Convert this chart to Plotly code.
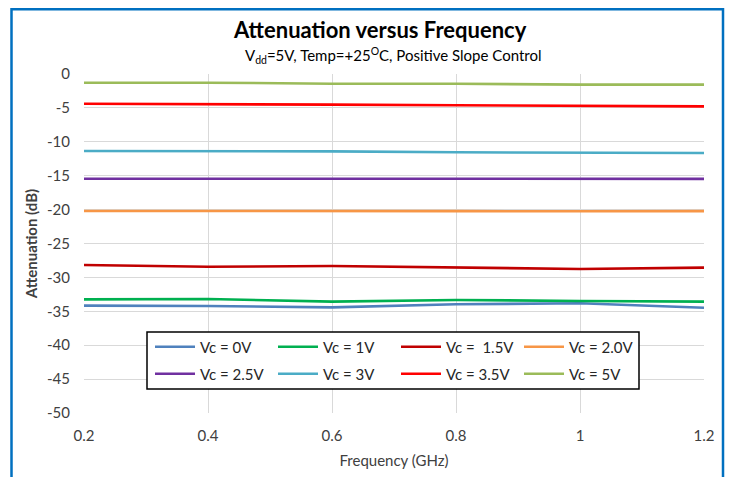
import plotly.graph_objects as go

freq = [0.2, 0.4, 0.6, 0.8, 1.0, 1.2]

vc_0v = [-34.17, -34.22, -34.42, -33.97, -33.82, -34.47]
vc_1v = [-33.24, -33.19, -33.58, -33.33, -33.48, -33.58]
vc_1p5v = [-28.17, -28.42, -28.32, -28.50, -28.76, -28.56]
vc_2p0v = [-20.20, -20.18, -20.15, -20.22, -20.25, -20.22]
vc_2p5v = [-15.44, -15.45, -15.47, -15.47, -15.47, -15.47]
vc_3v = [-11.36, -11.36, -11.41, -11.55, -11.65, -11.65]
vc_3p5v = [-4.38, -4.42, -4.52, -4.62, -4.72, -4.77]
vc_5v = [-1.28, -1.28, -1.43, -1.43, -1.57, -1.57]

names = ["Vc = 0V", "Vc = 1V", "Vc =  1.5V", "Vc = 2.0V",
         "Vc = 2.5V", "Vc = 3V", "Vc = 3.5V", "Vc = 5V"]
series = [vc_0v, vc_1v, vc_1p5v, vc_2p0v, vc_2p5v, vc_3v, vc_3p5v, vc_5v]
colors = ["#4F81BD", "#00B050", "#C00000", "#F79646",
          "#7030A0", "#4BACC6", "#FF0000", "#9BBB59"]

y_ticks = list(range(0, -51, -5))
y_tick_labels = [str(v) for v in y_ticks]
x_ticks = [0.2, 0.4, 0.6, 0.8, 1.0, 1.2]
x_tick_labels = ["0.2", "0.4", "0.6", "0.8", "1", "1.2"]

FONT = "Lato, 'Open Sans', sans-serif"

# page body has an 8px default margin; plot area in figure coords: x 76..696, y 66..405
L, T, W, H = 76, 66, 620, 339

fig = go.Figure()
for i, (n, s, c) in enumerate(zip(names, series, colors)):
    fig.add_trace(go.Scatter(x=freq, y=s, name=n, mode="lines",
                             legend="legend" if i < 4 else "legend2",
                             line=dict(color=c, width=2.6)))

leg_common = dict(
    orientation="h", xanchor="left", yanchor="middle",
    bgcolor="rgba(0,0,0,0)", borderwidth=0,
    font=dict(family=FONT, size=15, color="#262626"),
    entrywidth=68, entrywidthmode="pixels",
    itemwidth=40, tracegroupgap=0,
)

fig.update_layout(
    width=726, height=469,
    margin=dict(l=L, r=726 - L - W, t=T, b=469 - T - H, autoexpand=False),
    paper_bgcolor="white", plot_bgcolor="white",
    font=dict(family=FONT, size=15, color="#404040"),
    showlegend=True,
    legend=dict(x=(150 - 84) / W, y=(413 - 347) / H, **leg_common),
    legend2=dict(x=(150 - 84) / W, y=(413 - 374) / H, **leg_common),
    annotations=[
        dict(text="<b>Attenuation versus Frequency</b>", x=(380 - 84) / W, xref="paper",
             y=(413 - 29) / H, yref="paper", showarrow=False,
             xanchor="center", yanchor="middle",
             font=dict(family=FONT, size=22, color="#000000")),
        dict(text="V<sub>dd</sub>=5V, Temp=+25<sup>O</sup>C, Positive Slope Control",
             x=(393 - 84) / W, xref="paper",
             y=(413 - 56) / H, yref="paper", showarrow=False,
             xanchor="center", yanchor="middle",
             font=dict(family=FONT, size=15, color="#000000")),
    ],
    shapes=[
        dict(type="rect", xref="paper", yref="paper",
             x0=(147 - 84) / W, x1=(639 - 84) / W,
             y0=(413 - 389) / H, y1=(413 - 332) / H,
             line=dict(color="black", width=1.5), fillcolor="white",
             layer="above"),
        dict(type="rect", xref="paper", yref="paper",
             x0=(11.5 - 84) / W, x1=(723 - 84) / W,
             y0=-0.3, y1=(T + H - 1.2) / H,
             line=dict(color="#0070C0", width=2.5), fillcolor="rgba(0,0,0,0)",
             layer="above"),
    ],
)

fig.update_xaxes(
    range=[0.2, 1.2], tickvals=x_ticks, ticktext=x_tick_labels,
    showgrid=True, gridcolor="#D9D9D9", gridwidth=1.3, automargin=False,
    zeroline=False, showline=False, ticks="", ticklabelstandoff=12,
    tickfont=dict(family=FONT, size=15, color="#404040"),
    title=dict(text="Frequency (GHz)", font=dict(family=FONT, size=15, color="#404040"),
               standoff=12),
)
fig.update_yaxes(
    range=[-50, 0], tickvals=y_ticks, ticktext=y_tick_labels,
    showgrid=True, gridcolor="#D9D9D9", gridwidth=1.3, automargin=False,
    zeroline=False, showline=False, ticks="", ticklabelstandoff=13,
    tickfont=dict(family=FONT, size=15, color="#404040"),
    title=dict(text="<b>Attenuation (dB)</b>", font=dict(family=FONT, size=15, color="#404040"),
               standoff=5),
)

fig.write_html("out.html")
